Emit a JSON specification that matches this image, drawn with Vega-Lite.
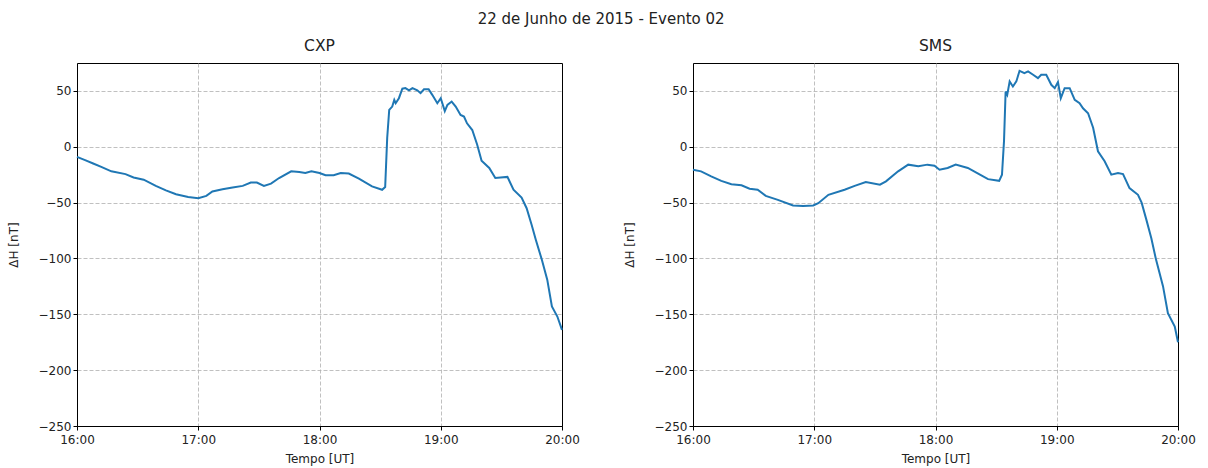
{
  "$schema": "https://vega.github.io/schema/vega-lite/v6.json",
  "background": "white",
  "padding": {"left": 6, "top": 12, "right": 5, "bottom": 3},
  "title": {"text": "22 de Junho de 2015 - Evento 02", "anchor": "middle", "fontSize": 15, "font": "DejaVu Sans", "fontWeight": "normal", "color": "#222222", "offset": 11},
  "config": {
    "font": "DejaVu Sans",
    "view": {"stroke": "black", "strokeWidth": 1},
    "axis": {
      "labelFont": "DejaVu Sans", "labelFontSize": 12, "labelColor": "#222222",
      "titleFont": "DejaVu Sans", "titleFontSize": 12, "titleFontWeight": "normal", "titleColor": "#222222",
      "domainColor": "black", "tickColor": "black", "tickSize": 4,
      "grid": true, "gridColor": "#b0b0b0", "gridDash": [4, 2], "gridWidth": 0.8
    },
    "title": {"fontSize": 15.5, "fontWeight": "normal", "font": "DejaVu Sans", "color": "#222222", "offset": 9},
    "concat": {"spacing": 42}
  },
  "datasets": {
    "cxp": [
      {"tempo": "2015-06-22T16:00:00", "dH": -9}, {"tempo": "2015-06-22T16:04:00", "dH": -12}, {"tempo": "2015-06-22T16:08:00", "dH": -15},
      {"tempo": "2015-06-22T16:12:00", "dH": -18}, {"tempo": "2015-06-22T16:17:00", "dH": -22}, {"tempo": "2015-06-22T16:24:00", "dH": -24.5},
      {"tempo": "2015-06-22T16:28:00", "dH": -27.5}, {"tempo": "2015-06-22T16:33:00", "dH": -29.5}, {"tempo": "2015-06-22T16:39:00", "dH": -35},
      {"tempo": "2015-06-22T16:44:00", "dH": -39}, {"tempo": "2015-06-22T16:49:00", "dH": -42.5}, {"tempo": "2015-06-22T16:55:00", "dH": -45},
      {"tempo": "2015-06-22T17:00:00", "dH": -46}, {"tempo": "2015-06-22T17:04:00", "dH": -44}, {"tempo": "2015-06-22T17:07:00", "dH": -40},
      {"tempo": "2015-06-22T17:12:00", "dH": -38}, {"tempo": "2015-06-22T17:17:00", "dH": -36.5}, {"tempo": "2015-06-22T17:22:00", "dH": -35},
      {"tempo": "2015-06-22T17:26:00", "dH": -32}, {"tempo": "2015-06-22T17:29:00", "dH": -32}, {"tempo": "2015-06-22T17:32:30", "dH": -35},
      {"tempo": "2015-06-22T17:36:00", "dH": -33}, {"tempo": "2015-06-22T17:40:00", "dH": -28}, {"tempo": "2015-06-22T17:46:00", "dH": -22},
      {"tempo": "2015-06-22T17:50:00", "dH": -22.5}, {"tempo": "2015-06-22T17:53:00", "dH": -23.5}, {"tempo": "2015-06-22T17:56:00", "dH": -22},
      {"tempo": "2015-06-22T18:00:00", "dH": -23.5}, {"tempo": "2015-06-22T18:03:00", "dH": -25.5}, {"tempo": "2015-06-22T18:07:00", "dH": -25.5},
      {"tempo": "2015-06-22T18:10:30", "dH": -23.5}, {"tempo": "2015-06-22T18:14:30", "dH": -24}, {"tempo": "2015-06-22T18:19:30", "dH": -28.5},
      {"tempo": "2015-06-22T18:26:00", "dH": -35.5}, {"tempo": "2015-06-22T18:31:00", "dH": -38.5}, {"tempo": "2015-06-22T18:32:30", "dH": -36},
      {"tempo": "2015-06-22T18:33:30", "dH": 8}, {"tempo": "2015-06-22T18:34:30", "dH": 33}, {"tempo": "2015-06-22T18:36:00", "dH": 36},
      {"tempo": "2015-06-22T18:37:00", "dH": 42}, {"tempo": "2015-06-22T18:37:42", "dH": 39}, {"tempo": "2015-06-22T18:39:18", "dH": 43.5},
      {"tempo": "2015-06-22T18:41:00", "dH": 52}, {"tempo": "2015-06-22T18:42:30", "dH": 52.5}, {"tempo": "2015-06-22T18:44:18", "dH": 50.5},
      {"tempo": "2015-06-22T18:46:00", "dH": 52.5}, {"tempo": "2015-06-22T18:48:24", "dH": 50.5}, {"tempo": "2015-06-22T18:50:00", "dH": 48},
      {"tempo": "2015-06-22T18:51:42", "dH": 51.5}, {"tempo": "2015-06-22T18:54:00", "dH": 51.5}, {"tempo": "2015-06-22T18:55:48", "dH": 46.5},
      {"tempo": "2015-06-22T18:58:18", "dH": 39}, {"tempo": "2015-06-22T19:00:00", "dH": 43.5}, {"tempo": "2015-06-22T19:02:00", "dH": 32},
      {"tempo": "2015-06-22T19:03:18", "dH": 37.5}, {"tempo": "2015-06-22T19:05:24", "dH": 40.5}, {"tempo": "2015-06-22T19:07:24", "dH": 36},
      {"tempo": "2015-06-22T19:09:48", "dH": 28.5}, {"tempo": "2015-06-22T19:11:30", "dH": 27}, {"tempo": "2015-06-22T19:13:00", "dH": 21},
      {"tempo": "2015-06-22T19:15:36", "dH": 15}, {"tempo": "2015-06-22T19:18:00", "dH": 2}, {"tempo": "2015-06-22T19:20:12", "dH": -12.5},
      {"tempo": "2015-06-22T19:24:00", "dH": -19}, {"tempo": "2015-06-22T19:27:00", "dH": -28}, {"tempo": "2015-06-22T19:29:36", "dH": -27.5},
      {"tempo": "2015-06-22T19:33:00", "dH": -27}, {"tempo": "2015-06-22T19:36:00", "dH": -38.5}, {"tempo": "2015-06-22T19:40:00", "dH": -45.5},
      {"tempo": "2015-06-22T19:42:30", "dH": -55}, {"tempo": "2015-06-22T19:45:00", "dH": -70}, {"tempo": "2015-06-22T19:47:00", "dH": -83},
      {"tempo": "2015-06-22T19:50:00", "dH": -101}, {"tempo": "2015-06-22T19:52:42", "dH": -119}, {"tempo": "2015-06-22T19:55:00", "dH": -143},
      {"tempo": "2015-06-22T19:57:42", "dH": -152}, {"tempo": "2015-06-22T20:00:00", "dH": -164}
    ],
    "sms": [
      {"tempo": "2015-06-22T16:00:00", "dH": -20.5}, {"tempo": "2015-06-22T16:04:00", "dH": -22}, {"tempo": "2015-06-22T16:09:00", "dH": -26.5},
      {"tempo": "2015-06-22T16:14:00", "dH": -30.5}, {"tempo": "2015-06-22T16:19:00", "dH": -33.5}, {"tempo": "2015-06-22T16:24:00", "dH": -34.5},
      {"tempo": "2015-06-22T16:28:00", "dH": -37.5}, {"tempo": "2015-06-22T16:32:00", "dH": -38.5}, {"tempo": "2015-06-22T16:36:00", "dH": -44},
      {"tempo": "2015-06-22T16:42:00", "dH": -47.5}, {"tempo": "2015-06-22T16:49:30", "dH": -52.5}, {"tempo": "2015-06-22T16:54:30", "dH": -53},
      {"tempo": "2015-06-22T16:59:30", "dH": -52.5}, {"tempo": "2015-06-22T17:02:00", "dH": -50.5}, {"tempo": "2015-06-22T17:07:00", "dH": -43},
      {"tempo": "2015-06-22T17:15:00", "dH": -38.5}, {"tempo": "2015-06-22T17:20:00", "dH": -35}, {"tempo": "2015-06-22T17:25:30", "dH": -31.5},
      {"tempo": "2015-06-22T17:32:30", "dH": -34}, {"tempo": "2015-06-22T17:35:30", "dH": -31}, {"tempo": "2015-06-22T17:41:30", "dH": -22},
      {"tempo": "2015-06-22T17:46:30", "dH": -16}, {"tempo": "2015-06-22T17:51:30", "dH": -17.5}, {"tempo": "2015-06-22T17:56:00", "dH": -16},
      {"tempo": "2015-06-22T17:59:30", "dH": -17}, {"tempo": "2015-06-22T18:02:00", "dH": -20.5}, {"tempo": "2015-06-22T18:06:00", "dH": -19},
      {"tempo": "2015-06-22T18:10:00", "dH": -16}, {"tempo": "2015-06-22T18:16:00", "dH": -19}, {"tempo": "2015-06-22T18:22:00", "dH": -25},
      {"tempo": "2015-06-22T18:26:00", "dH": -29}, {"tempo": "2015-06-22T18:31:30", "dH": -30.5}, {"tempo": "2015-06-22T18:32:54", "dH": -25},
      {"tempo": "2015-06-22T18:33:54", "dH": 5}, {"tempo": "2015-06-22T18:34:42", "dH": 49.5}, {"tempo": "2015-06-22T18:35:30", "dH": 46.5},
      {"tempo": "2015-06-22T18:36:42", "dH": 58.5}, {"tempo": "2015-06-22T18:38:18", "dH": 54}, {"tempo": "2015-06-22T18:40:00", "dH": 58.5},
      {"tempo": "2015-06-22T18:41:36", "dH": 68}, {"tempo": "2015-06-22T18:44:00", "dH": 66}, {"tempo": "2015-06-22T18:45:48", "dH": 67.5},
      {"tempo": "2015-06-22T18:48:18", "dH": 64.5}, {"tempo": "2015-06-22T18:50:42", "dH": 61.5}, {"tempo": "2015-06-22T18:52:18", "dH": 64.5},
      {"tempo": "2015-06-22T18:54:48", "dH": 64.5}, {"tempo": "2015-06-22T18:57:18", "dH": 55.5}, {"tempo": "2015-06-22T18:59:00", "dH": 52.5},
      {"tempo": "2015-06-22T19:00:36", "dH": 58}, {"tempo": "2015-06-22T19:02:00", "dH": 43.5}, {"tempo": "2015-06-22T19:03:54", "dH": 52.5},
      {"tempo": "2015-06-22T19:06:24", "dH": 52.5}, {"tempo": "2015-06-22T19:08:54", "dH": 42}, {"tempo": "2015-06-22T19:11:18", "dH": 39},
      {"tempo": "2015-06-22T19:13:00", "dH": 34.5}, {"tempo": "2015-06-22T19:15:30", "dH": 30}, {"tempo": "2015-06-22T19:18:00", "dH": 17},
      {"tempo": "2015-06-22T19:20:24", "dH": -4}, {"tempo": "2015-06-22T19:23:42", "dH": -13}, {"tempo": "2015-06-22T19:27:00", "dH": -25},
      {"tempo": "2015-06-22T19:30:18", "dH": -23.5}, {"tempo": "2015-06-22T19:32:48", "dH": -24.5}, {"tempo": "2015-06-22T19:36:00", "dH": -37},
      {"tempo": "2015-06-22T19:40:12", "dH": -43}, {"tempo": "2015-06-22T19:42:00", "dH": -50}, {"tempo": "2015-06-22T19:44:18", "dH": -65},
      {"tempo": "2015-06-22T19:46:48", "dH": -82}, {"tempo": "2015-06-22T19:49:00", "dH": -100}, {"tempo": "2015-06-22T19:52:36", "dH": -125},
      {"tempo": "2015-06-22T19:55:00", "dH": -149}, {"tempo": "2015-06-22T19:58:24", "dH": -161}, {"tempo": "2015-06-22T20:00:00", "dH": -175}
    ]
  },
  "hconcat": [
    {
      "title": {"text": "CXP"},
      "width": 485, "height": 363,
      "data": {"name": "cxp"},
      "mark": {"type": "line", "color": "#1f77b4", "strokeWidth": 2},
      "encoding": {
        "x": {"field": "tempo", "type": "temporal", "title": "Tempo [UT]",
              "scale": {"nice": false},
              "axis": {"format": "%H:%M", "tickCount": 5, "labelFlush": false, "labelPadding": 4, "titlePadding": 8,
                       "gridOpacity": {"condition": {"test": "hours(datum.value) == 20", "value": 0}, "value": 1}}},
        "y": {"field": "dH", "type": "quantitative", "title": "ΔH [nT]",
              "scale": {"domain": [-250, 75], "nice": false, "zero": false},
              "axis": {"values": [-250, -200, -150, -100, -50, 0, 50], "titlePadding": 18}}
      }
    },
    {
      "title": {"text": "SMS"},
      "width": 485, "height": 363,
      "data": {"name": "sms"},
      "mark": {"type": "line", "color": "#1f77b4", "strokeWidth": 2},
      "encoding": {
        "x": {"field": "tempo", "type": "temporal", "title": "Tempo [UT]",
              "scale": {"nice": false},
              "axis": {"format": "%H:%M", "tickCount": 5, "labelFlush": false, "labelPadding": 4, "titlePadding": 8,
                       "gridOpacity": {"condition": {"test": "hours(datum.value) == 20", "value": 0}, "value": 1}}},
        "y": {"field": "dH", "type": "quantitative", "title": "ΔH [nT]",
              "scale": {"domain": [-250, 75], "nice": false, "zero": false},
              "axis": {"values": [-250, -200, -150, -100, -50, 0, 50], "titlePadding": 18}}
      }
    }
  ]
}
